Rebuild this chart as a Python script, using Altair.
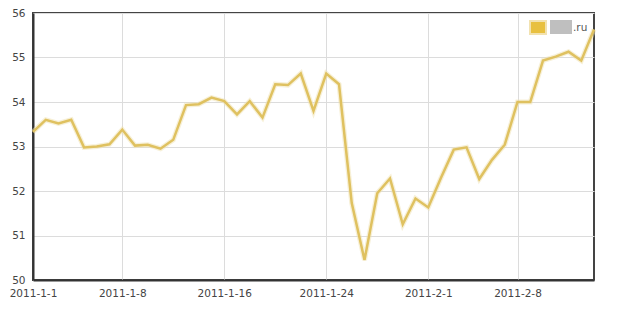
import altair as alt
import pandas as pd

dates = pd.date_range("2011-01-01", "2011-02-14", freq="D").strftime("%Y-%m-%d").tolist()
values = [53.33, 53.60, 53.52, 53.60, 52.98, 53.00, 53.05, 53.38, 53.02, 53.04,
          52.95, 53.15, 53.93, 53.95, 54.10, 54.02, 53.72, 54.02, 53.65, 54.40,
          54.38, 54.64, 53.80, 54.64, 54.40, 51.73, 50.45, 51.95, 52.28, 51.25,
          51.83, 51.63, 52.30, 52.93, 52.98, 52.27, 52.70, 53.04, 54.00, 54.00,
          54.93, 55.02, 55.13, 54.93, 55.63]
tick_dates = [(2011, 1, 1), (2011, 1, 8), (2011, 1, 16), (2011, 1, 24), (2011, 2, 1), (2011, 2, 8)]
y_ticks = [50, 51, 52, 53, 54, 55, 56]
legend_label = ".ru"

df = pd.DataFrame({"date": dates, "value": values})

tick_vals = [alt.DateTime(year=y, month=m, date=d, utc=True) for (y, m, d) in tick_dates]

x_enc = alt.X(
    "date:T",
    scale=alt.Scale(type="utc", domain=[alt.DateTime(year=2011, month=1, date=1, utc=True),
                                        alt.DateTime(year=2011, month=2, date=14, utc=True)], nice=False),
    axis=alt.Axis(values=tick_vals, labelExpr="utcFormat(datum.value, '%Y-%-m-%-d')", title=None,
                  grid=True, ticks=False, labelPadding=8, labelFont="DejaVu Sans",
                  labelFontSize=10.5, labelColor="#444", domainColor="#333", domainWidth=2,
                  gridColor="#dcdcdc", gridWidth=1, labelOverlap=False, labelFlush=False),
)
y_enc = alt.Y(
    "value:Q",
    scale=alt.Scale(domain=[50, 56], nice=False, zero=False),
    axis=alt.Axis(values=y_ticks, title=None, grid=True, ticks=False, labelPadding=8,
                  labelFont="DejaVu Sans", labelFontSize=10.5, labelColor="#444",
                  domainColor="#333", domainWidth=2, gridColor="#dcdcdc", gridWidth=1),
)

base = alt.Chart(df)
glow = base.mark_line(color="#f0e2b0", strokeWidth=5, opacity=0.5).encode(x=x_enc, y=y_enc)
line = base.mark_line(color="#dfc160", strokeWidth=2.5, strokeJoin="miter").encode(x=x_enc, y=y_enc)

one = pd.DataFrame({"k": [0]})
swatch = alt.Chart(one).mark_rect(fill="#e8c040", stroke="#f2e2b0", strokeWidth=2).encode(
    x=alt.value(497), x2=alt.value(513), y=alt.value(8), y2=alt.value(21))
grey = alt.Chart(one).mark_rect(fill="#bfbfbf").encode(
    x=alt.value(517), x2=alt.value(539), y=alt.value(7), y2=alt.value(21))
label = alt.Chart(pd.DataFrame({"t": [legend_label]})).mark_text(
    align="left", baseline="middle", font="DejaVu Sans", fontSize=10.5, color="#555").encode(
    x=alt.value(540), y=alt.value(15), text="t:N")

chart = alt.layer(glow, line, swatch, grey, label).properties(
    width=561, height=267,
    autosize=alt.AutoSizeParams(type="none"),
    padding={"left": 33, "top": 13, "right": 46, "bottom": 32},
    background="white",
).configure_view(stroke="#444", strokeWidth=2)

chart.save("out.html", embed_options={"renderer": "svg", "actions": False})
